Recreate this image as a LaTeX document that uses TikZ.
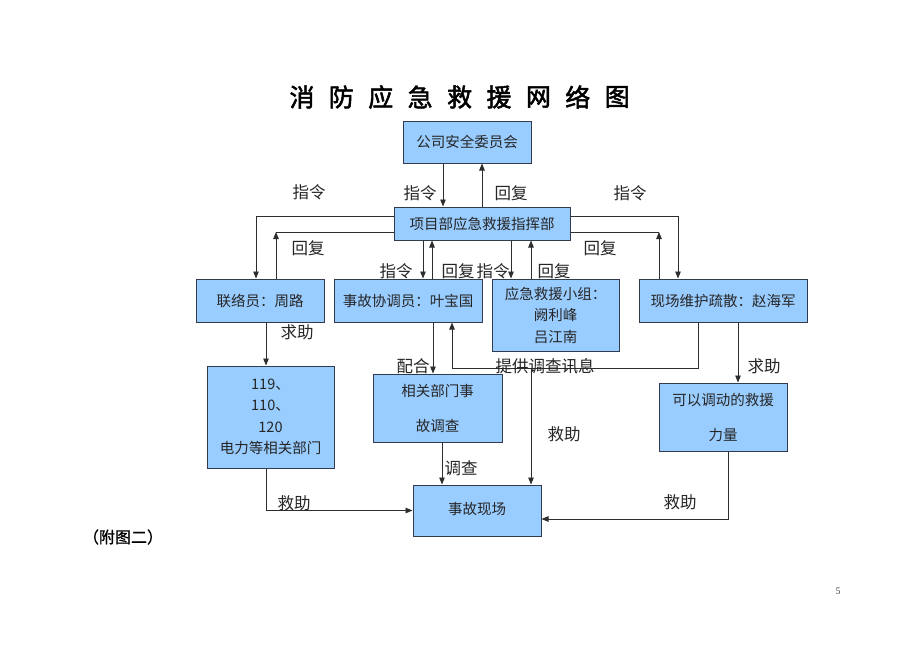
\documentclass[tikz,border=0pt]{standalone}
\usepackage{fontspec}
\setmainfont{Noto Sans CJK SC}
\newfontfamily\titlefont[FakeBold=2]{Noto Sans CJK SC}
\newfontfamily\notefont[FakeBold=1]{Noto Sans CJK SC}
\newfontfamily\numfont{Liberation Serif}
\usetikzlibrary{arrows.meta}
\definecolor{boxfill}{RGB}{153,204,255}
\definecolor{boxline}{RGB}{50,58,75}
\definecolor{wire}{RGB}{45,45,45}
\tikzset{
  box/.style={draw=boxline, line width=1pt, fill=boxfill, inner sep=0pt,
    align=center, text=black!85, font=\fontsize{14.5}{21.5}\selectfont},
  lbl/.style={inner sep=0pt, text=black!85, font=\fontsize{16.5}{20}\selectfont},
  wirestyle/.style={draw=wire, line width=0.9pt},
  arr/.style={wirestyle, -{Triangle[length=7pt,width=5.5pt]}},
  ttl/.style={inner sep=0pt, font=\titlefont\fontsize{25}{28}\selectfont}
}
\begin{document}
\begin{tikzpicture}[x=1pt,y=-1pt]
\useasboundingbox[fill=white] (0,0) rectangle (920,651);

% title
\foreach \c [count=\i] in {消,防,应,急,救,援,网,络,图}
  \node[ttl] (t\i) at ({302+39.4*(\i-1)},97) {\c};

% boxes
\node[box, minimum width=128, minimum height=42] (A) at (467,142) {公司安全委员会};
\node[box, minimum width=176, minimum height=33] (B) at (482,223.5) {项目部应急救援指挥部};
\node[box, minimum width=128, minimum height=43] (C) at (260,300.5) {联络员：周路};
\node[box, minimum width=148, minimum height=43] (D) at (408,300.5) {事故协调员：叶宝国};
\node[box, minimum width=127, minimum height=72] (E) at (555.5,315) {应急救援小组：\\阙利峰\\吕江南};
\node[box, minimum width=168, minimum height=43] (F) at (723,300.5) {现场维护疏散：赵海军};
\node[box, minimum width=127, minimum height=102] (G) at (270.5,417) {119、\\110、\\120\\电力等相关部门};
\node[box, minimum width=129, minimum height=68, font=\fontsize{14.5}{35}\selectfont] (H) at (437.5,408) {相关部门事\\故调查};
\node[box, minimum width=128, minimum height=68, font=\fontsize{14.5}{35}\selectfont] (I) at (723,417) {可以调动的救援\\力量};
\node[box, minimum width=128, minimum height=51] (J) at (477,510.5) {\raisebox{5pt}{事故现场}};

% helper coordinates
\coordinate (k1) at (256,216);
\coordinate (k2) at (276,232);
\coordinate (k3) at (678,216);
\coordinate (k4) at (659,232);
\coordinate (a1) at (443,185);
\coordinate (a2) at (482,185);
\coordinate (m1) at (423,260);
\coordinate (m2) at (432,260);
\coordinate (m3) at (511,260);
\coordinate (m4) at (531,260);
\coordinate (g1) at (266,340);
\coordinate (h1) at (433,345);
\coordinate (h2) at (442,460);
\coordinate (p1) at (698,368);
\coordinate (p2) at (452,368);
\coordinate (p3) at (531,368);
\coordinate (r1) at (738,350);
\coordinate (r2) at (728,519);

% connectors
\draw[arr] (A.south -| a1) -- (B.north -| a1);
\draw[arr] (B.north -| a2) -- (A.south -| a2);
\draw[arr] (B.west |- k1) -| (C.north -| k1);
\draw[arr] (C.north -| k2) -- (k2);
\draw[wirestyle] (k2) -- (B.west |- k2);
\draw[arr] (B.east |- k3) -| (F.north -| k3);
\draw[arr] (F.north -| k4) -- (k4);
\draw[wirestyle] (k4) -- (B.east |- k4);
\draw[arr] (B.south -| m1) -- (D.north -| m1);
\draw[arr] (D.north -| m2) -- (B.south -| m2);
\draw[arr] (B.south -| m3) -- (E.north -| m3);
\draw[arr] (E.north -| m4) -- (B.south -| m4);
\draw[arr] (C.south -| g1) -- (G.north -| g1);
\draw[arr] (G.south -| g1) |- (J.west);
\draw[arr] (D.south -| h1) -- (H.north -| h1);
\draw[arr] (H.south -| h2) -- (J.north -| h2);
\draw[arr] (F.south -| p1) -- (p1) -- (p2) -- (D.south -| p2);
\draw[arr] (p3) -- (J.north -| p3);
\draw[arr] (F.south -| r1) -- (I.north -| r1);
\draw[arr] (I.south -| r2) |- (J.east |- r2);

% labels
\node[lbl] (l1) at (309,192) {指令};
\node[lbl] (l2) at (420,193) {指令};
\node[lbl] (l3) at (511,193) {回复};
\node[lbl] (l4) at (630,193) {指令};
\node[lbl] (l5) at (308,248) {回复};
\node[lbl] (l6) at (600,248) {回复};
\node[lbl] (l7) at (396,271) {指令};
\node[lbl] (l8) at (458,271) {回复};
\node[lbl] (l9) at (493,271) {指令};
\node[lbl] (l10) at (554,271) {回复};
\node[lbl] (l11) at (297,332) {求助};
\node[lbl] (l12) at (413,366) {配合};
\node[lbl] (l13) at (545,366) {提供调查讯息};
\node[lbl] (l14) at (764,366) {求助};
\node[lbl] (l15) at (564,434) {救助};
\node[lbl] (l16) at (461,468) {调查};
\node[lbl] (l17) at (294,503) {救助};
\node[lbl] (l18) at (680,502) {救助};

% notes
\node[inner sep=0pt, font=\notefont\fontsize{16}{18}\selectfont] (note) at (123,537) {（附图二）};
\node[inner sep=0pt, font=\numfont\fontsize{10}{12}\selectfont, text=black!70] (pg) at (838,591) {5};
\end{tikzpicture}
\end{document}
